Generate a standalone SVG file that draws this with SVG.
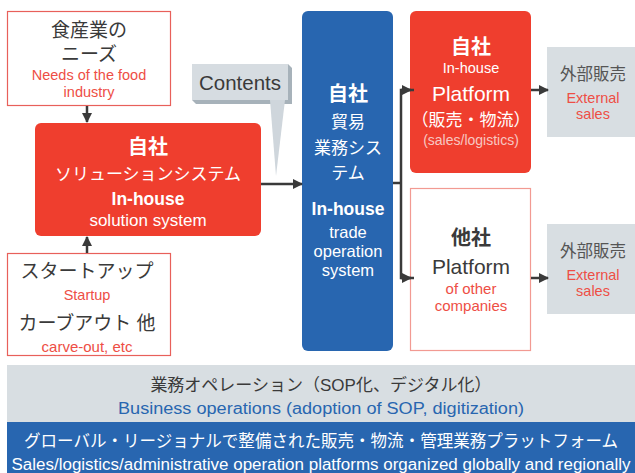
<svg xmlns="http://www.w3.org/2000/svg" width="635" height="473" viewBox="0 0 635 473">
<defs>
<marker id="ah" viewBox="0 0 10 10" refX="9" refY="5" markerWidth="4" markerHeight="4" orient="auto" markerUnits="strokeWidth">
<path d="M0,0 L10,5 L0,10 z" fill="#3a3a3a"/>
</marker>
<style>
text{font-family:"Liberation Sans","Noto Sans CJK JP",sans-serif;text-anchor:middle}
.dk{fill:#3a3a3a}
.rd{fill:#ee4e45}
.wh{fill:#ffffff}
.b{font-weight:bold}
.ln{stroke:#3a3a3a;stroke-width:2.5;fill:none}
</style>
</defs>
<rect width="635" height="473" fill="#ffffff"/>

<g id="needs">
<rect x="7.5" y="11.5" width="163" height="94" fill="#ffffff" stroke="#e8605a" stroke-width="1.2"/>
<text x="89" y="37" font-size="19" class="dk">食産業の</text>
<text x="89" y="61" font-size="19" class="dk">ニーズ</text>
<text x="89" y="80" font-size="14.5" class="rd">Needs of the food</text>
<text x="89" y="97" font-size="14.5" class="rd">industry</text>
</g>

<g id="solution">
<rect x="35" y="123" width="226" height="113" rx="6" fill="#ef3e2e"/>
<text x="148" y="154" font-size="20" class="wh b">自社</text>
<text x="148" y="180" font-size="17" class="wh">ソリューションシステム</text>
<text x="148" y="205" font-size="17.5" class="wh b">In-house</text>
<text x="148" y="226" font-size="17" class="wh">solution system</text>
</g>

<g id="startup">
<rect x="7.5" y="253.5" width="163" height="102" fill="#ffffff" stroke="#e8605a" stroke-width="1.2"/>
<text x="87" y="278" font-size="19" class="dk">スタートアップ</text>
<text x="87" y="300" font-size="14.5" class="rd">Startup</text>
<text x="87" y="330" font-size="19" class="dk">カーブアウト 他</text>
<text x="87" y="352" font-size="15" class="rd">carve-out, etc</text>
</g>

<g id="contents">
<polygon points="288,64 292,68 292,104 196,104 192,100 288,100" fill="#a7b2ba"/>
<polygon points="270,100 285,100 276,176" fill="#cfd6dc"/>
<rect x="192" y="64" width="96" height="36" fill="#d6dce1"/>
<text x="240" y="90" font-size="20.5" class="dk">Contents</text>
</g>

<g id="trade">
<rect x="302" y="11" width="91" height="340" rx="6" fill="#2866b0"/>
<text x="348" y="101" font-size="20" class="wh b">自社</text>
<text x="348" y="128" font-size="17" class="wh">貿易</text>
<text x="348" y="154" font-size="17" class="wh">業務シス</text>
<text x="348" y="179" font-size="17" class="wh">テム</text>
<text x="348" y="215" font-size="17.5" class="wh b">In-house</text>
<text x="348" y="238" font-size="16.5" class="wh">trade</text>
<text x="348" y="257" font-size="16.5" class="wh">operation</text>
<text x="348" y="276" font-size="16.5" class="wh">system</text>
</g>

<g id="platform-inhouse">
<rect x="410" y="11" width="121" height="162" rx="6" fill="#ef3e2e"/>
<text x="471" y="54" font-size="20" class="wh b">自社</text>
<text x="471" y="73" font-size="14.5" class="wh">In-house</text>
<text x="471" y="101" font-size="21" class="wh">Platform</text>
<text x="471" y="126" font-size="17" class="wh">（販売・物流）</text>
<text x="471" y="145" font-size="14" fill="#f7c7c2">(sales/logistics)</text>
</g>

<g id="platform-other">
<rect x="410.5" y="188.5" width="120" height="162" fill="#ffffff" stroke="#f29a92" stroke-width="1.2"/>
<text x="471" y="245" font-size="20" class="dk b">他社</text>
<text x="471" y="274" font-size="21" class="dk">Platform</text>
<text x="471" y="294" font-size="15" class="rd">of other</text>
<text x="471" y="311" font-size="15" class="rd">companies</text>
</g>

<g id="external1">
<rect x="547" y="47" width="88" height="90" fill="#d8dee2"/>
<text x="593" y="80" font-size="16.5" fill="#555555">外部販売</text>
<text x="593" y="103" font-size="14.5" class="rd">External</text>
<text x="593" y="119" font-size="14.5" class="rd">sales</text>
</g>

<g id="external2">
<rect x="547" y="224" width="88" height="90" fill="#d8dee2"/>
<text x="593" y="257" font-size="16.5" fill="#555555">外部販売</text>
<text x="593" y="280" font-size="14.5" class="rd">External</text>
<text x="593" y="296" font-size="14.5" class="rd">sales</text>
</g>

<g id="connectors">
<line x1="87" y1="106" x2="87" y2="122" class="ln" marker-end="url(#ah)"/>
<line x1="87" y1="253" x2="87" y2="237" class="ln" marker-end="url(#ah)"/>
<line x1="261" y1="184" x2="302" y2="184" class="ln" marker-end="url(#ah)"/>
<line x1="393" y1="183" x2="401" y2="183" class="ln"/>
<polyline points="414,90 401,90 401,278 414,278" class="ln"/>
<line x1="401" y1="90" x2="411" y2="90" class="ln" marker-end="url(#ah)"/>
<line x1="401" y1="278" x2="411" y2="278" class="ln" marker-end="url(#ah)"/>
<line x1="531" y1="90" x2="548" y2="90" class="ln" marker-end="url(#ah)"/>
<line x1="531" y1="278" x2="548" y2="278" class="ln" marker-end="url(#ah)"/>
</g>

<g id="operations">
<rect x="7" y="365" width="628" height="57" fill="#d8dee2"/>
<text x="321" y="391" font-size="17" class="dk">業務オペレーション（SOP化、デジタル化）</text>
<text x="321" y="414" font-size="16" fill="#2866b0" textLength="406" lengthAdjust="spacingAndGlyphs">Business operations (adoption of SOP, digitization)</text>
</g>

<g id="platforms">
<rect x="7" y="422" width="628" height="51" fill="#2866b0"/>
<text x="321" y="447" font-size="17" class="wh" textLength="594" lengthAdjust="spacingAndGlyphs">グローバル・リージョナルで整備された販売・物流・管理業務プラットフォーム</text>
<text x="321" y="470" font-size="16" class="wh" textLength="619" lengthAdjust="spacingAndGlyphs">Sales/logistics/administrative operation platforms organized globally and regionally</text>
</g>
</svg>
